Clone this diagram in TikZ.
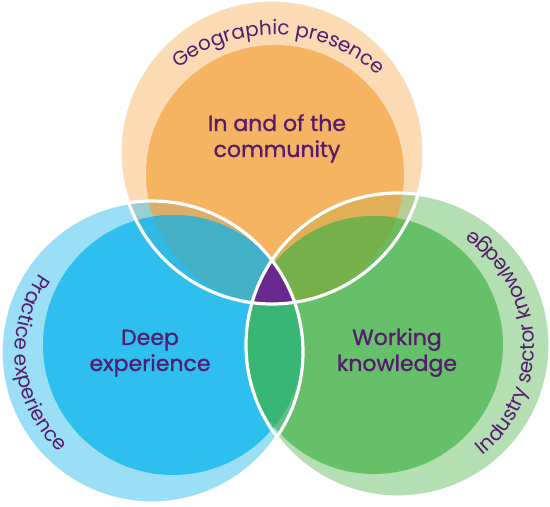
\documentclass[tikz,border=0pt]{standalone}
\usepackage{fontspec}
\setmainfont{Poppins}
\newfontfamily\labelfont{Poppins}[FakeBold=1]
\usetikzlibrary{decorations.text}
\definecolor{peachC}{HTML}{FBDBB4}
\definecolor{orangeC}{HTML}{F6B361}
\definecolor{lbC}{HTML}{9BDFF6}
\definecolor{blueC}{HTML}{2EBFEE}
\definecolor{lgC}{HTML}{B4DFB3}
\definecolor{greenC}{HTML}{66C069}
\definecolor{OBrr}{HTML}{9ECDD0}
\definecolor{OBir}{HTML}{DAAE69}
\definecolor{OBri}{HTML}{30B9E4}
\definecolor{OBii}{HTML}{43B0C5}
\definecolor{OGrr}{HTML}{B6CC90}
\definecolor{OGir}{HTML}{E0AF58}
\definecolor{OGri}{HTML}{6BBB5D}
\definecolor{OGii}{HTML}{77B04A}
\definecolor{BGrr}{HTML}{A4D9CF}
\definecolor{BGir}{HTML}{45BFB6}
\definecolor{BGri}{HTML}{60C08A}
\definecolor{BGii}{HTML}{3AB674}
\definecolor{tripleC}{HTML}{68298F}
\definecolor{tpurple}{HTML}{561A6E}
\newcommand\curvefont{\fontsize{20}{24}\selectfont}
\tikzset{
 cO/.style={insert path={(272,355) circle[radius=152]}},
 cOI/.style={insert path={(275,333) circle[radius=129]}},
 cB/.style={insert path={(152,155) circle[radius=151]}},
 cBI/.style={insert path={(173,162) circle[radius=130]}},
 cG/.style={insert path={(398,162) circle[radius=152]}},
 cGI/.style={insert path={(374,162) circle[radius=129]}},
 ringline/.style={draw=white, line width=3.2pt},
 lbl/.style={text=tpurple, font=\labelfont\fontsize{22}{26}\selectfont, inner sep=0pt, anchor=base},
}
\begin{document}
\begin{tikzpicture}[x=1pt,y=1pt]
\clip (0,0) rectangle (550,507);
% groups
\fill[peachC, cO];
\begin{scope}\clip[cO]; \fill[orangeC, cOI]; \end{scope}
\fill[lbC, cB];
\begin{scope}\clip[cB]; \fill[blueC, cBI]; \end{scope}
\fill[lgC, cG];
\begin{scope}\clip[cG]; \fill[greenC, cGI]; \end{scope}
% orange-blue
\begin{scope}
 \clip[cO]; \clip[cB];
 \fill[OBrr, cO];
 \fill[OBir, cOI];
 \fill[OBri, cBI];
 \clip[cOI]; \fill[OBii, cBI];
\end{scope}
% orange-green
\begin{scope}
 \clip[cO]; \clip[cG];
 \fill[OGrr, cO];
 \fill[OGir, cOI];
 \fill[OGri, cGI];
 \clip[cOI]; \fill[OGii, cGI];
\end{scope}
% blue-green
\begin{scope}
 \clip[cB]; \clip[cG];
 \fill[BGrr, cB];
 \fill[BGir, cBI];
 \fill[BGri, cGI];
 \clip[cBI]; \fill[BGii, cGI];
\end{scope}
% triple
\begin{scope}
 \clip[cO]; \clip[cB]; \fill[tripleC, cG];
\end{scope}
% white outlines
\draw[ringline, cO];
\draw[ringline, cB];
\draw[ringline, cG];
% labels
\node[lbl] (t1) at (277,376) {In and of the};
\node[lbl] (t2) at (277,350) {community};
\node[lbl] (d1) at (150,162) {Deep};
\node[lbl] (d2) at (150,136) {experience};
\node[lbl] (w1) at (397,162) {Working};
\node[lbl] (w2) at (397,136) {knowledge};
% curved labels
\path[decorate, shift={(274,317)}, decoration={text along path, text align=center,
  text={|\curvefont\color{tpurple}|Geographic presence}}]
  (133:155) arc[start angle=133, end angle=43, radius=155];
\path[decorate, shift={(152,155)}, decoration={text along path, text align=center,
  text={|\curvefont\color{tpurple}|Practice experience}}]
  (136:137) arc[start angle=136, end angle=236, radius=137];
\path[decorate, shift={(395,160)}, decoration={text along path, text align=center,
  text={|\curvefont\color{tpurple}|Industry sector knowledge}}]
  (-57:139.5) arc[start angle=-57, end angle=63, radius=139.5];
\end{tikzpicture}
\end{document}
